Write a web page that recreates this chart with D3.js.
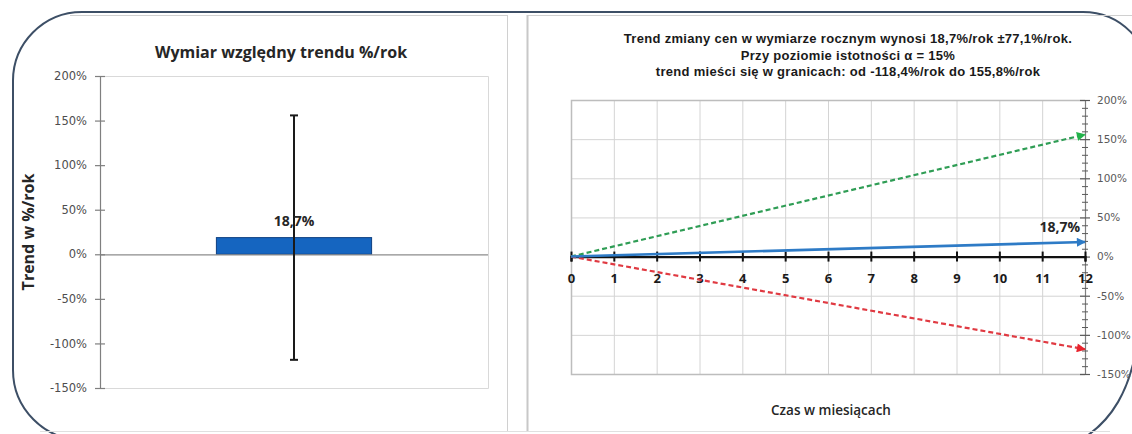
<!DOCTYPE html>
<html>
<head>
<meta charset="utf-8">
<script src="https://cdn.jsdelivr.net/npm/d3@7"></script>
<style>
  html, body { margin: 0; padding: 0; background: #ffffff; }
  svg { display: block; }
</style>
</head>
<body>
<svg id="chart" width="1132" height="434"></svg>
<script>
// ---------- DATA ----------
const leftTitle = "Wymiar względny trendu %/rok";
const leftYAxisTitle = "Trend w %/rok";
const leftCategories = ["trend"];
const leftValues = [18.7];
const leftErrorLow = [-118.4];
const leftErrorHigh = [155.8];
const leftValueLabels = ["18,7%"];
const percentTicks = [200, 150, 100, 50, 0, -50, -100, -150];

const rightTitleLines = [
  "Trend zmiany cen w wymiarze rocznym wynosi 18,7%/rok ±77,1%/rok.",
  "Przy poziomie istotności α = 15%",
  "trend mieści się w granicach: od -118,4%/rok do 155,8%/rok"
];
const rightXAxisTitle = "Czas w miesiącach";
const months = [0, 1, 2, 3, 4, 5, 6, 7, 8, 9, 10, 11, 12];
const lineMonths = [0, 12];
const trendUpper = [0, 155.8];
const trendMain = [0, 18.7];
const trendLower = [0, -118.4];
const trendLabel = "18,7%";
const minorTicks = d3.range(-150, 201, 10);

// ---------- SETUP ----------
const svg = d3.select("#chart");
const fmtPct = d => d + "%";

// outer decorative rounded frame
svg.append("path")
  .attr("d", "M13,82 A69,69 0 0 1 82,12 L1083,12 A67,67 0 0 1 1150,79 L1140,300 C1140,380 1115,440 1040,455 L83,455 L83,440 A70,70 0 0 1 13,370 Z")
  .attr("fill", "none").attr("stroke", "#3d4f66").attr("stroke-width", 2);

// excel chart area borders
svg.append("line").attr("x1", 70).attr("x2", 507).attr("y1", 15.5).attr("y2", 15.5).attr("stroke", "#d0d0d0");
svg.append("line").attr("x1", 507.5).attr("x2", 507.5).attr("y1", 15).attr("y2", 431).attr("stroke", "#d0d0d0");
svg.append("line").attr("x1", 527).attr("x2", 1132).attr("y1", 15.5).attr("y2", 15.5).attr("stroke", "#d0d0d0");
svg.append("line").attr("x1", 527.5).attr("x2", 527.5).attr("y1", 15).attr("y2", 431).attr("stroke", "#c8c8c8").attr("stroke-width", 2);
svg.append("line").attr("x1", 40).attr("x2", 1110).attr("y1", 431.5).attr("y2", 431.5).attr("stroke", "#e0e0e0");

// ---------- LEFT CHART ----------
const L = { left: 100, right: 488, top: 76, bottom: 388 };
const yL = d3.scaleLinear().domain([-150, 200]).range([L.bottom, L.top]);
const xL = d3.scaleBand().domain(leftCategories).range([L.left, L.right]).paddingInner(0).paddingOuter(0.75);

const gL = svg.append("g");
// plot border (top, right, bottom)
gL.append("path")
  .attr("d", `M${L.left},${L.top + 0.5}H${L.right + 0.5}V${L.bottom + 0.5}H${L.left}`)
  .attr("fill", "none").attr("stroke", "#d9d9d9");

// bar
gL.selectAll("rect.bar").data(leftValues).join("rect")
  .attr("class", "bar")
  .attr("x", (d, i) => xL(leftCategories[i]))
  .attr("width", xL.bandwidth())
  .attr("y", d => yL(Math.max(0, d)))
  .attr("height", d => Math.abs(yL(d) - yL(0)))
  .attr("fill", "#1565c0").attr("stroke", "#0e3f80").attr("stroke-width", 1);

// zero line
gL.append("line").attr("x1", L.left).attr("x2", L.right)
  .attr("y1", yL(0) + 0.5).attr("y2", yL(0) + 0.5)
  .attr("stroke", "#8c8c8c").attr("stroke-width", 1.2);

// error bars
leftValues.forEach((v, i) => {
  const cx = xL(leftCategories[i]) + xL.bandwidth() / 2;
  const g = gL.append("g").attr("stroke", "#1a1a1a").attr("stroke-width", 2);
  g.append("line").attr("x1", cx).attr("x2", cx).attr("y1", yL(leftErrorHigh[i])).attr("y2", yL(leftErrorLow[i]));
  g.append("line").attr("x1", cx - 4).attr("x2", cx + 4).attr("y1", yL(leftErrorHigh[i])).attr("y2", yL(leftErrorHigh[i]));
  g.append("line").attr("x1", cx - 4).attr("x2", cx + 4).attr("y1", yL(leftErrorLow[i])).attr("y2", yL(leftErrorLow[i]));
  gL.append("text").attr("x", cx).attr("y", yL(v) - 12)
    .attr("text-anchor", "middle")
    .style("font-family", "'Open Sans', sans-serif").style("font-weight", 700).style("font-size", "14px")
    .attr("fill", "#262626").text(leftValueLabels[i]);
});

// y axis
const axL = gL.append("g").attr("transform", `translate(${L.left},0)`)
  .call(d3.axisLeft(yL).tickValues(percentTicks).tickFormat(fmtPct).tickSize(5).tickPadding(8));
axL.select(".domain").attr("stroke", "#7f7f7f").attr("stroke-width", 1.2);
axL.selectAll(".tick line").attr("x1", -5).attr("x2", 5).attr("stroke", "#7f7f7f").attr("stroke-width", 1.2);
axL.selectAll(".tick text").attr("x", -13)
  .style("font-family", "'DejaVu Sans', sans-serif").style("font-size", "11.5px").attr("fill", "#4d4d4d");

// titles
gL.append("text").attr("x", 281).attr("y", 58).attr("text-anchor", "middle")
  .style("font-family", "'Open Sans', sans-serif").style("font-weight", 700).style("font-size", "16px")
  .attr("fill", "#262626").text(leftTitle);
gL.append("text").attr("transform", `translate(34,${(L.top + L.bottom) / 2}) rotate(-90)`)
  .attr("text-anchor", "middle")
  .style("font-family", "'Open Sans', sans-serif").style("font-weight", 700).style("font-size", "16px")
  .attr("fill", "#262626").text(leftYAxisTitle);

// ---------- RIGHT CHART ----------
const R = { left: 571, right: 1085, top: 100, bottom: 374 };
const xR = d3.scaleLinear().domain([0, 12]).range([R.left, R.right]);
const yR = d3.scaleLinear().domain([-150, 200]).range([R.bottom, R.top]);
const gR = svg.append("g");

// gridlines
gR.selectAll("line.vgrid").data(months).join("line")
  .attr("x1", d => xR(d) + 0.5).attr("x2", d => xR(d) + 0.5)
  .attr("y1", R.top).attr("y2", R.bottom)
  .attr("stroke", "#d4d4d4");
gR.selectAll("line.hgrid").data(percentTicks).join("line")
  .attr("x1", R.left).attr("x2", R.right)
  .attr("y1", d => yR(d) + 0.5).attr("y2", d => yR(d) + 0.5)
  .attr("stroke", "#d4d4d4");
// border
gR.append("path")
  .attr("d", `M${R.right},${R.top + 0.5}H${R.left + 0.5}V${R.bottom + 0.5}H${R.right}`)
  .attr("fill", "none").attr("stroke", "#bdbdbd").attr("stroke-width", 1.5);

// right axis
const axR = gR.append("g").attr("transform", `translate(${R.right},0)`)
  .call(d3.axisRight(yR).tickValues(percentTicks).tickFormat(fmtPct).tickSize(5).tickPadding(8));
axR.select(".domain").attr("stroke", "#7f7f7f").attr("stroke-width", 1.2);
axR.selectAll(".tick line").attr("x1", -5).attr("x2", 5).attr("stroke", "#595959").attr("stroke-width", 1.2);
axR.selectAll(".tick text").attr("x", 12)
  .style("font-family", "'DejaVu Sans', sans-serif").style("font-size", "10.5px").attr("fill", "#595959");
gR.selectAll("line.minor").data(minorTicks.filter(d => d % 50 !== 0)).join("line")
  .attr("x1", R.right - 3).attr("x2", R.right + 3)
  .attr("y1", d => yR(d) + 0.5).attr("y2", d => yR(d) + 0.5)
  .attr("stroke", "#595959").attr("stroke-width", 1);

// x axis at zero
const axX = gR.append("g").attr("transform", `translate(0,${yR(0)})`)
  .call(d3.axisBottom(xR).tickValues(months).tickFormat(d3.format("d")).tickSize(5));
axX.select(".domain").attr("stroke", "#111").attr("stroke-width", 2.2);
axX.selectAll(".tick line").attr("y1", -5).attr("y2", 5).attr("stroke", "#111").attr("stroke-width", 2);
axX.selectAll(".tick text").attr("y", 26).attr("dy", null)
  .style("font-family", "'Open Sans', sans-serif").style("font-weight", 700).style("font-size", "13px")
  .attr("fill", "#1a1a1a");

// markers
const defs = svg.append("defs");
function marker(id, color) {
  defs.append("marker").attr("id", id)
    .attr("viewBox", "0 0 10 10").attr("refX", 9).attr("refY", 5)
    .attr("markerWidth", 10).attr("markerHeight", 9).attr("markerUnits", "userSpaceOnUse")
    .attr("orient", "auto")
    .append("path").attr("d", "M0,0L10,5L0,10Z").attr("fill", color);
}
marker("arrGreen", "#22b24a");
marker("arrBlue", "#2e7bc6");
marker("arrRed", "#e8232d");

const line = d3.line().x((d, i) => xR(lineMonths[i])).y(d => yR(d));
gR.append("path").datum(trendUpper).attr("d", line)
  .attr("fill", "none").attr("stroke", "#2f9d55").attr("stroke-width", 2.2)
  .attr("stroke-dasharray", "5,3").attr("marker-end", "url(#arrGreen)");
gR.append("path").datum(trendLower).attr("d", line)
  .attr("fill", "none").attr("stroke", "#e03a42").attr("stroke-width", 2.2)
  .attr("stroke-dasharray", "5,3").attr("marker-end", "url(#arrRed)");
gR.append("path").datum(trendMain).attr("d", line)
  .attr("fill", "none").attr("stroke", "#2e7bc6").attr("stroke-width", 2.6)
  .attr("marker-end", "url(#arrBlue)");

gR.append("text").attr("x", xR(12) - 5).attr("y", yR(trendMain[1]) - 10)
  .attr("text-anchor", "end")
  .style("font-family", "'Open Sans', sans-serif").style("font-weight", 700).style("font-size", "14px")
  .attr("fill", "#262626").text(trendLabel);

// right titles
gR.selectAll("text.rtitle").data(rightTitleLines).join("text")
  .attr("class", "rtitle")
  .attr("x", 848).attr("y", (d, i) => 43 + i * 16.5)
  .attr("text-anchor", "middle")
  .style("font-family", "'Liberation Sans', Arial, sans-serif").style("font-weight", 700).style("font-size", "13px")
  .style("letter-spacing", "0.3px")
  .attr("fill", "#1a1a1a").text(d => d);

gR.append("text").attr("x", 831).attr("y", 415).attr("text-anchor", "middle")
  .style("font-family", "'Open Sans', sans-serif").style("font-weight", 600).style("font-size", "13.5px")
  .attr("fill", "#262626").text(rightXAxisTitle);
</script>
</body>
</html>
